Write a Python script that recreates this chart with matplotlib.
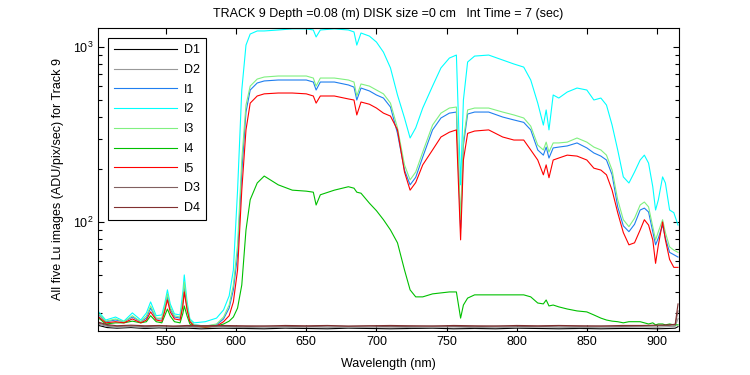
#!/usr/bin/env python3
"""
Lu spectra for track 9: five lit images (I1..I5) and four dark frames (D1..D4),
log y axis, MATLAB-like look.
"""

import matplotlib
matplotlib.use("Agg")
import matplotlib.pyplot as plt
import matplotlib.ticker as ticker

plt.rcParams["font.family"] = ["Liberation Sans", "DejaVu Sans"]
plt.rcParams["mathtext.fontset"] = "custom"
plt.rcParams["mathtext.rm"] = "Liberation Sans"

# wavelength grid (nm) for the lit images
wl = [502, 507, 514, 520, 526, 532, 536, 539, 543, 547,
      549, 551, 553, 556, 560, 562, 563, 565, 567, 570,
      578, 586, 591, 595, 598, 601, 604, 607, 610, 615,
      620, 630, 640, 650, 655, 657, 660, 670, 680, 684,
      686, 689, 695, 700, 705, 710, 715, 720, 724, 728,
      733, 740, 746, 752, 757, 760, 762, 765, 770, 780,
      790, 798, 805, 810, 815, 819, 821, 823, 826, 830,
      836, 843, 850, 855, 860, 864, 868, 872, 876, 880,
      884, 888, 891, 894, 897, 899, 901, 904, 906, 909,
      912, 915]

i1 = [29.4, 26.9, 27.5, 26.9, 28.6, 26.9, 28.2, 32.2, 27.9, 27.9,
      31.8, 37.8, 31.8, 28.6, 28.2, 35.0, 43.0, 32.5, 27.1, 25.8,
      25.4, 25.8, 27.9, 32.2, 40.9, 64.8, 193, 425, 568, 623,
      640, 648, 648, 648, 631, 568, 631, 631, 607, 590,
      498, 583, 561, 532, 511, 454, 321, 198, 163, 180,
      235, 336, 393, 419, 425, 92, 275, 414, 425, 425,
      398, 383, 371, 336, 258, 241, 268, 232, 265, 268,
      272, 283, 265, 248, 238, 226, 186, 122, 95, 88,
      97, 117, 120, 114, 88, 74, 81, 96, 81, 67,
      65, 63]

i2 = [30.6, 27.5, 28.6, 27.1, 30.2, 27.5, 30.2, 34.9, 29.1, 29.4,
      34.0, 40.9, 34.0, 29.8, 29.4, 40.0, 49.8, 35.0, 27.9, 26.5,
      26.9, 28.2, 31.4, 37.8, 53.2, 152, 568, 1026, 1187, 1236,
      1236, 1252, 1270, 1270, 1252, 1142, 1252, 1270, 1252, 1220,
      1026, 1203, 1155, 1068, 935, 760, 532, 393, 302, 345,
      448, 598, 760, 865, 900, 163, 498, 821, 888, 900,
      843, 800, 768, 648, 478, 358, 437, 336, 532, 511,
      553, 583, 568, 498, 511, 466, 358, 258, 181, 167,
      193, 226, 241, 217, 159, 117, 134, 181, 167, 117,
      113, 96]

i3 = [29.8, 27.1, 27.9, 26.9, 29.1, 26.9, 29.1, 33.1, 28.2, 28.2,
      32.5, 38.8, 32.5, 29.1, 28.6, 36.0, 45.4, 33.5, 27.5, 25.8,
      25.4, 26.1, 28.6, 33.5, 43.6, 74, 226, 466, 598, 656,
      674, 683, 683, 683, 665, 598, 665, 665, 648, 631,
      525, 615, 598, 568, 540, 478, 345, 212, 174, 193,
      251, 358, 419, 448, 454, 103, 294, 437, 448, 448,
      425, 409, 393, 353, 275, 258, 286, 251, 283, 283,
      286, 302, 286, 268, 258, 241, 198, 134, 103, 94,
      105, 125, 130, 122, 94, 79, 88, 103, 87, 72,
      69, 67]

i4 = [28.2, 26.1, 26.5, 26.5, 27.1, 26.5, 26.9, 29.1, 26.9, 26.5,
      29.0, 31.8, 29.0, 26.9, 26.5, 30.0, 33.1, 29.0, 26.1, 25.4,
      25.1, 25.4, 26.1, 27.1, 28.6, 32.2, 43.6, 90, 134, 167,
      183, 163, 152, 150, 148, 125, 143, 152, 159, 156,
      148, 146, 128, 116, 103, 90, 76, 53.2, 40.9, 37.3,
      37.3, 38.8, 39.3, 39.8, 39.8, 28.2, 33.5, 36.7, 38.3, 38.3,
      38.3, 38.3, 38.3, 37.3, 34.4, 34.0, 35.8, 33.1, 33.5, 32.7,
      31.8, 31.0, 30.6, 29.4, 28.2, 27.5, 27.1, 26.9, 26.5, 26.9,
      26.9, 26.9, 26.5, 26.1, 26.5, 25.8, 26.1, 26.1, 25.8, 26.1,
      25.8, 25.8]

i5 = [28.6, 26.5, 26.9, 26.5, 27.9, 26.5, 27.5, 30.6, 27.5, 27.1,
      30.6, 35.9, 30.6, 27.9, 27.5, 33.0, 39.8, 31.4, 26.9, 25.4,
      25.1, 25.4, 26.9, 29.1, 34.9, 53.2, 152, 336, 478, 525,
      540, 546, 546, 540, 525, 478, 525, 525, 505, 498,
      409, 485, 471, 448, 419, 403, 336, 193, 152, 168,
      212, 258, 306, 326, 336, 79, 226, 321, 331, 336,
      306, 294, 294, 258, 226, 186, 212, 179, 226, 232,
      241, 238, 226, 203, 198, 186, 152, 113, 87, 74,
      76, 90, 103, 96, 79, 58, 74, 100, 79, 61,
      55, 55]

# dark frames sit on the floor, with a jump at the last pixel
wl_dark = [502, 508, 515, 525, 535, 545, 555, 565, 575, 590,
           605, 620, 635, 650, 665, 680, 695, 710, 725, 740,
           755, 770, 785, 800, 815, 830, 845, 860, 875, 890,
           900, 908, 913, 915]

d1 = [25.6, 24.9, 24.7, 24.9, 24.6, 24.8, 24.6, 24.7, 24.5, 24.7,
      24.6, 24.5, 24.7, 24.6, 24.5, 24.7, 24.6, 24.5, 24.6, 24.7,
      24.5, 24.6, 24.5, 24.7, 24.6, 24.5, 24.6, 24.5, 24.6, 24.6,
      24.5, 24.6, 24.7, 25.2]
d2 = [26.0, 25.3, 25.0, 25.2, 24.9, 25.1, 24.9, 25.0, 24.9, 25.1,
      24.9, 25.0, 24.9, 25.1, 25.0, 24.9, 25.0, 25.1, 24.9, 25.0,
      25.1, 24.9, 25.0, 24.9, 25.1, 25.0, 24.9, 25.0, 25.0, 25.1,
      25.0, 25.2, 25.3, 28.0]
d3 = [26.4, 25.6, 25.3, 25.5, 25.2, 25.4, 25.3, 25.2, 25.4, 25.3,
      25.2, 25.4, 25.3, 25.2, 25.4, 25.3, 25.4, 25.2, 25.3, 25.4,
      25.3, 25.2, 25.4, 25.3, 25.2, 25.4, 25.3, 25.4, 25.3, 25.4,
      25.5, 25.6, 25.8, 31.0]
d4 = [26.7, 25.9, 25.5, 25.7, 25.5, 25.6, 25.4, 25.6, 25.5, 25.6,
      25.5, 25.4, 25.6, 25.5, 25.6, 25.4, 25.5, 25.6, 25.5, 25.4,
      25.6, 25.5, 25.4, 25.6, 25.5, 25.6, 25.5, 25.4, 25.6, 25.6,
      25.7, 25.8, 26.0, 34.0]

SERIES = [
    ("D1", wl_dark, d1, "#000000"),
    ("D2", wl_dark, d2, "#999999"),
    ("I1", wl, i1, "#1f7fef"),
    ("I2", wl, i2, "#00ffff"),
    ("I3", wl, i3, "#80f080"),
    ("I4", wl, i4, "#00c000"),
    ("I5", wl, i5, "#ff0000"),
    ("D3", wl_dark, d3, "#806060"),
    ("D4", wl_dark, d4, "#803030"),
]

fig = plt.figure(figsize=(7.5, 3.75), dpi=100)
ax = fig.add_axes([98 / 750, 1 - 331 / 375, 581 / 750, 303 / 375])

for name, x, y, color in SERIES:
    ax.plot(x, y, color=color, linewidth=0.8, label=name)

ax.set_yscale("log")
ax.set_xlim(501.5, 915.7)
ax.set_ylim(23.8, 1285)

ax.xaxis.set_major_locator(ticker.MultipleLocator(50))
ax.yaxis.set_major_locator(ticker.LogLocator(base=10))
ax.yaxis.set_minor_locator(ticker.LogLocator(base=10, subs=range(2, 10)))
ax.yaxis.set_minor_formatter(ticker.NullFormatter())

ax.tick_params(which="both", direction="in", top=True, right=True,
               labelsize=9, colors="black", width=0.8)
ax.tick_params(which="major", length=4)
ax.tick_params(which="minor", length=3)
for spine in ax.spines.values():
    spine.set_linewidth(0.8)

ax.set_xlabel("Wavelength (nm)", fontsize=9, labelpad=7)
ax.set_ylabel("All five Lu images (ADU/pix/sec) for Track 9", fontsize=9, labelpad=6)
ax.set_title("TRACK 9 Depth =0.08 (m) DISK size =0 cm   Int Time = 7 (sec)",
             fontsize=9, pad=8)

leg = ax.legend(loc="upper left", bbox_to_anchor=(0.017, 0.967),
                borderaxespad=0, fontsize=9, handlelength=5.0,
                labelspacing=0.62, fancybox=False, framealpha=1,
                edgecolor="black", borderpad=0.5, handletextpad=0.6)
leg.get_frame().set_linewidth(0.8)

fig.savefig("out.png", dpi=100)
